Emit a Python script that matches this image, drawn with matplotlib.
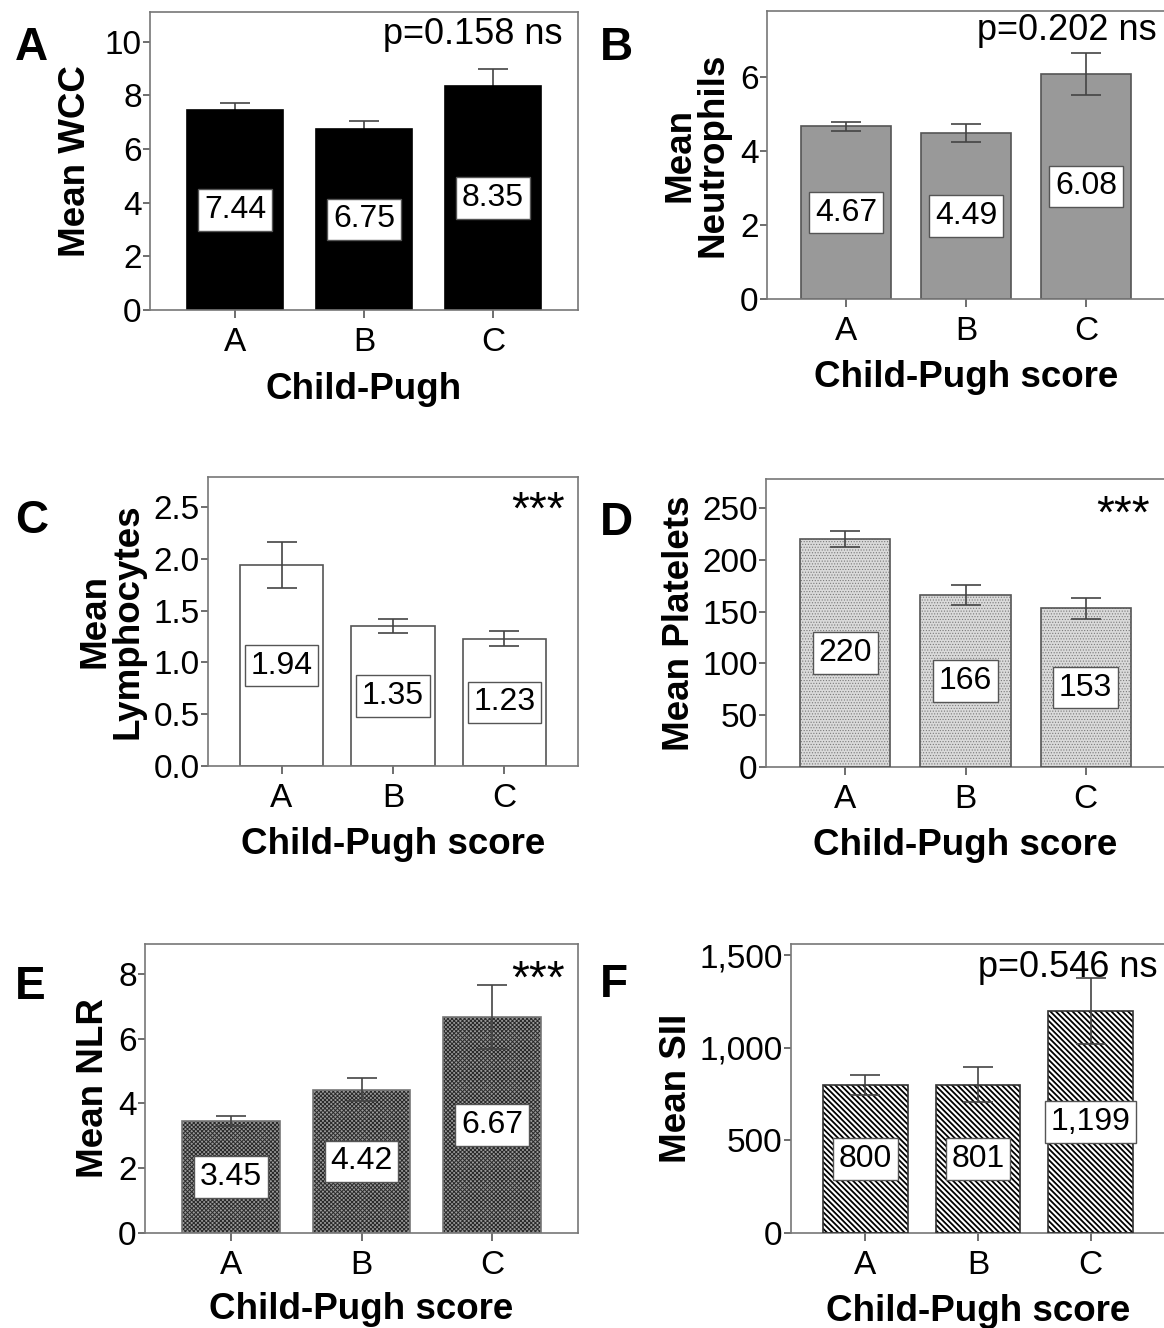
import matplotlib
matplotlib.use("Agg")
import matplotlib.pyplot as plt
from matplotlib.ticker import MultipleLocator, FuncFormatter

plt.rcParams['font.family'] = ['Liberation Sans', 'DejaVu Sans']

# Data
groups = ['A', 'B', 'C']

wcc_mean = [7.44, 6.75, 8.35]
wcc_err = [0.28, 0.30, 0.61]

neut_mean = [4.67, 4.49, 6.08]
neut_err = [0.12, 0.25, 0.57]

lymph_mean = [1.94, 1.35, 1.23]
lymph_err = [0.225, 0.07, 0.07]

plt_mean = [220, 166, 153]
plt_err = [7.5, 10, 10.5]

nlr_mean = [3.45, 4.42, 6.67]
nlr_err = [0.15, 0.36, 0.98]

sii_mean = [800, 801, 1199]
sii_err = [53, 95, 180]

W, H = 1164, 1328
fig = plt.figure(figsize=(W / 100, H / 100), dpi=100)


# axes placed in pixel coordinates (left, right, top, bottom)
def px_axes(left, right, top, bottom):
    return fig.add_axes([left / W, 1 - bottom / H, (right - left) / W, (bottom - top) / H])


def draw_panel(ax, means, errs, ymax, step, tickfmt, valfmt, ylabel, xlabel,
               ylab_x, xlab_y, note, note_xy, face, edge, hatch=None, hatch_color=None,
               hatch_lw=1.0, err_z=4):
    x = range(len(groups))
    if hatch:
        with plt.rc_context({'hatch.linewidth': hatch_lw}):
            ax.bar(x, means, width=0.75, color=face, edgecolor=hatch_color,
                   linewidth=0, hatch=hatch, zorder=2)
        ax.bar(x, means, width=0.75, color='none', edgecolor=edge, linewidth=1.2, zorder=3)
    else:
        ax.bar(x, means, width=0.75, color=face, edgecolor=edge, linewidth=1.2, zorder=2)
    ax.errorbar(x, means, yerr=errs, fmt='none', ecolor='#444444', elinewidth=1.2,
                capsize=11, capthick=1.2, zorder=err_z)
    for xi, m in zip(x, means):
        ax.text(xi, m / 2, valfmt(m), ha='center', va='center', fontsize=23, zorder=5,
                bbox=dict(boxstyle='square,pad=0.18', fc='white', ec='#555555', lw=1))

    ax.set_xlim(-0.66, 2.66)
    ax.set_ylim(0, ymax)
    ax.yaxis.set_major_locator(MultipleLocator(step))
    ax.yaxis.set_major_formatter(FuncFormatter(tickfmt))
    ax.set_xticks(list(x))
    ax.set_xticklabels(groups)
    ax.tick_params(axis='x', length=6, width=1.2, color='#555555', pad=6, labelsize=24)
    ax.tick_params(axis='y', length=5, width=1.2, color='#555555', pad=1, labelsize=24)
    for s in ax.spines.values():
        s.set_color('#777777')
        s.set_linewidth(1.2)

    ax.set_ylabel(ylabel, fontsize=26.5, fontweight='bold', linespacing=0.92)
    ax.yaxis.set_label_coords(ylab_x, 0.5)
    ax.yaxis.label.set_va('center')
    ax.set_xlabel(xlabel, fontsize=26.5, fontweight='bold')
    ax.xaxis.set_label_coords(0.5, xlab_y)
    ax.xaxis.label.set_va('center')

    if note.startswith('p'):
        ax.text(note_xy[0], note_xy[1], note, transform=ax.transAxes, ha='right',
                va='center', fontsize=26)
    else:
        ax.text(note_xy[0], note_xy[1], note, transform=ax.transAxes, ha='right',
                va='top', fontsize=33)


def dec(n):
    return lambda v, pos=None: f"{v:.{n}f}"


def comma(v, pos=None):
    return f"{v:,.0f}"


axA = px_axes(150, 578, 12, 310)
draw_panel(axA, wcc_mean, wcc_err, 11.1, 2, dec(0), dec(2), 'Mean WCC', 'Child-Pugh',
           -0.173, -0.268, 'p=0.158 ns', (0.963, 0.923), 'black', 'black', err_z=1)

axB = px_axes(767, 1165, 11, 299)
draw_panel(axB, neut_mean, neut_err, 7.78, 2, dec(0), dec(2), 'Mean\nNeutrophils',
           'Child-Pugh score', -0.178, -0.274, 'p=0.202 ns', (0.98, 0.934),
           '#999999', '#555555')

axC = px_axes(208, 578, 477, 766)
draw_panel(axC, lymph_mean, lymph_err, 2.79, 0.5, dec(1), dec(2), 'Mean\nLymphocytes',
           'Child-Pugh score', -0.26, -0.273, '***', (0.965, 0.955), 'white', '#555555')

axD = px_axes(766, 1165, 479, 767)
draw_panel(axD, plt_mean, plt_err, 278, 50, dec(0), dec(0), 'Mean Platelets',
           'Child-Pugh score', -0.218, -0.274, '***', (0.962, 0.948), '#dadada', '#555555',
           hatch='......', hatch_color='#7a7a7a', hatch_lw=0.5)

axE = px_axes(145, 578, 944, 1233)
draw_panel(axE, nlr_mean, nlr_err, 8.92, 2, dec(0), dec(2), 'Mean NLR',
           'Child-Pugh score', -0.118, -0.266, '***', (0.97, 0.95), '#9a9a9a', '#777777',
           hatch='xxxxxxxx', hatch_color='#2a2a2a', hatch_lw=0.7)

axF = px_axes(791, 1165, 944, 1233)
draw_panel(axF, sii_mean, sii_err, 1560, 500, comma, comma, 'Mean SII',
           'Child-Pugh score', -0.307, -0.27, 'p=0.546 ns', (0.981, 0.917), 'white',
           '#333333', hatch='\\' * 6, hatch_color='black', hatch_lw=1.3)

# panel letters
for letter, px, py in [('A', 15, 48), ('B', 600, 48), ('C', 15, 521),
                       ('D', 600, 523), ('E', 15, 987), ('F', 600, 985)]:
    fig.text(px / W, 1 - py / H, letter, fontsize=33, fontweight='bold',
             ha='left', va='center')

fig.savefig('out.png', dpi=100, facecolor='white')
